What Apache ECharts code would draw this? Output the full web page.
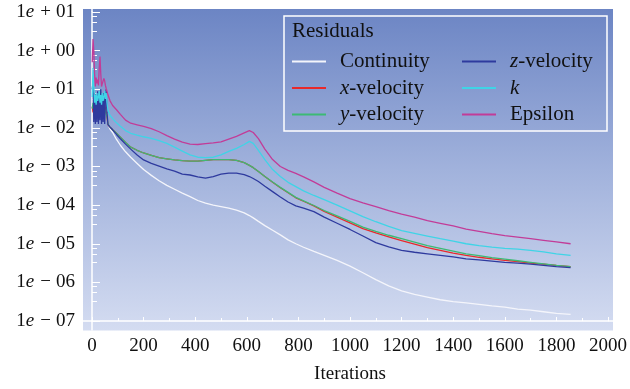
<!DOCTYPE html>
<html>
<head>
<meta charset="utf-8">
<script src="https://cdn.jsdelivr.net/npm/echarts@6/dist/echarts.min.js"></script>
<style>
html,body{margin:0;padding:0;background:#fff;}
#chart{width:630px;height:389px;}
</style>
</head>
<body>
<div id="chart"></div>
<script>
// ---- data (stored as log10 of the residual) ----
const iterations = [1,4,7,10,13,16,19,22,25,28,31,34,37,40,43,46,49,52,55,58,62,
  70,80,95,110,130,150,175,200,230,260,290,320,350,380,410,440,470,500,530,560,590,610,625,645,670,700,730,760,
  790,820,860,900,950,1000,1050,1100,1150,1200,1250,1300,1350,1400,1450,1500,1550,1600,1650,1700,1750,1800,1855];

const continuityLog = [-1.4,-1.55,-1.3,-1.5,-1.35,-1.55,-1.4,-1.3,-1.5,-1.45,-1.3,-1.5,-1.45,-1.35,-1.55,-1.45,-1.35,-1.5,-1.55,-1.7,-1.92,
  -2.03,-2.12,-2.3,-2.45,-2.62,-2.76,-2.92,-3.08,-3.23,-3.37,-3.49,-3.59,-3.69,-3.78,-3.88,-3.95,-4.0,-4.04,
  -4.08,-4.13,-4.2,-4.27,-4.33,-4.42,-4.53,-4.65,-4.77,-4.9,-5.0,-5.09,-5.2,-5.3,-5.43,-5.58,-5.75,-5.93,-6.09,-6.22,
  -6.31,-6.38,-6.45,-6.5,-6.53,-6.57,-6.61,-6.64,-6.69,-6.72,-6.76,-6.8,-6.83];

const xVelocityLog = [-1.45,-1.6,-1.35,-1.55,-1.4,-1.6,-1.35,-1.5,-1.55,-1.4,-1.5,-1.35,-1.55,-1.4,-1.5,-1.55,-1.4,-1.5,-1.6,-1.72,-1.92,
  -1.98,-2.05,-2.14,-2.24,-2.38,-2.5,-2.58,-2.65,-2.71,-2.77,-2.8,-2.83,-2.85,-2.86,-2.86,-2.84,-2.82,-2.82,
  -2.82,-2.84,-2.9,-2.97,-3.03,-3.13,-3.26,-3.41,-3.55,-3.68,-3.81,-3.9,-4.02,-4.16,-4.31,-4.46,-4.61,-4.72,-4.82,-4.92,
  -5.01,-5.1,-5.17,-5.24,-5.3,-5.35,-5.39,-5.43,-5.46,-5.5,-5.53,-5.56,-5.59];

const yVelocityLog = [-1.5,-1.35,-1.55,-1.4,-1.5,-1.3,-1.55,-1.45,-1.35,-1.5,-1.4,-1.55,-1.35,-1.5,-1.45,-1.4,-1.5,-1.45,-1.55,-1.7,-1.9,
  -1.98,-2.05,-2.14,-2.24,-2.38,-2.5,-2.58,-2.65,-2.71,-2.77,-2.8,-2.83,-2.85,-2.86,-2.86,-2.84,-2.82,-2.82,
  -2.82,-2.84,-2.9,-2.97,-3.03,-3.13,-3.26,-3.4,-3.54,-3.67,-3.8,-3.89,-4.01,-4.14,-4.28,-4.42,-4.57,-4.68,-4.78,-4.87,
  -4.96,-5.05,-5.12,-5.19,-5.26,-5.31,-5.36,-5.4,-5.44,-5.48,-5.52,-5.56,-5.59];

const zVelocityLog = [-1.0,-0.8,-1.85,-1.1,-1.9,-1.2,-1.85,-1.05,-1.9,-1.2,-1.8,-1.0,-1.9,-1.25,-1.85,-1.1,-1.9,-1.3,-1.0,-1.6,-1.92,
  -1.98,-2.05,-2.17,-2.28,-2.42,-2.55,-2.7,-2.83,-2.92,-2.99,-3.06,-3.12,-3.2,-3.22,-3.27,-3.3,-3.26,-3.2,
  -3.17,-3.17,-3.21,-3.26,-3.31,-3.39,-3.51,-3.65,-3.79,-3.92,-4.02,-4.08,-4.17,-4.31,-4.47,-4.63,-4.8,-4.97,-5.08,-5.17,
  -5.22,-5.26,-5.3,-5.34,-5.39,-5.42,-5.45,-5.48,-5.5,-5.53,-5.56,-5.59,-5.62];

const kLog = [-1.2,-0.45,-0.9,-1.35,-1.15,-1.4,-1.1,-1.3,-1.2,-1.05,-1.35,-1.15,-1.4,-1.1,-1.3,-1.2,-1.05,-1.25,-1.1,-1.35,-1.55,
  -1.68,-1.76,-1.87,-1.96,-2.07,-2.14,-2.19,-2.23,-2.27,-2.33,-2.4,-2.5,-2.6,-2.7,-2.76,-2.77,-2.76,-2.7,
  -2.61,-2.53,-2.43,-2.35,-2.4,-2.58,-2.82,-3.08,-3.26,-3.41,-3.52,-3.63,-3.75,-3.86,-4.0,-4.15,-4.3,-4.43,-4.55,-4.66,
  -4.73,-4.8,-4.87,-4.93,-5.0,-5.05,-5.09,-5.12,-5.14,-5.17,-5.21,-5.26,-5.3];

const epsilonLog = [-0.3,0.3,0.0,-0.6,-0.93,-0.7,-0.85,-0.75,-0.9,-0.45,-0.15,-0.6,-0.93,-0.85,-0.8,-0.72,-0.78,-0.9,-0.98,-1.05,-1.15,
  -1.3,-1.42,-1.53,-1.65,-1.8,-1.88,-1.92,-1.96,-2.02,-2.1,-2.2,-2.29,-2.37,-2.42,-2.43,-2.41,-2.39,-2.36,
  -2.29,-2.22,-2.13,-2.07,-2.12,-2.28,-2.55,-2.82,-3.0,-3.1,-3.18,-3.27,-3.4,-3.54,-3.69,-3.83,-3.94,-4.04,-4.14,-4.23,
  -4.31,-4.4,-4.47,-4.54,-4.62,-4.68,-4.74,-4.79,-4.83,-4.87,-4.91,-4.95,-5.0];

const seriesNames = ['Continuity','x-velocity','y-velocity','z-velocity','k','Epsilon'];
const seriesLogs = [continuityLog, xVelocityLog, yVelocityLog, zVelocityLog, kLog, epsilonLog];
const seriesColors = ['#f4f5fb','#e8292b','#3cba74','#2e3a9e','#3fd4e6','#c23c98'];
const xTicks = {min:0, max:2000, interval:200};
const yRange = {min:1e-7, max:10};

// ---- chart ----
const FONT = '"Liberation Serif", "Times New Roman", serif';
const chart = echarts.init(document.getElementById('chart'), null, {renderer:'canvas'});

const seriesList = seriesNames.map((name, i) => ({
  name: name,
  type: 'line',
  data: iterations.map((it, j) => [it, Math.pow(10, seriesLogs[i][j])]),
  showSymbol: false,
  symbol: 'none',
  color: seriesColors[i],
  itemStyle: {color: seriesColors[i]},
  lineStyle: {color: seriesColors[i], width: 1.3},
  emphasis: {disabled: true},
  z: 3
}));

const LFS = 21;
function legendFormatter(name) {
  let body;
  if (/^[xyz]-velocity$/.test(name)) body = '{i|' + name[0] + '}{t|-velocity}';
  else if (name === 'k') body = '{i|k}';
  else body = '{t|' + name + '}';
  return '{g| }' + body;
}
const legendRich = {
  g: {width: 9, fontSize: LFS, fontFamily: FONT, lineHeight: 21},
  t: {fontSize: LFS, fontFamily: FONT, color: '#111', lineHeight: 21},
  i: {fontSize: LFS, fontFamily: FONT, fontStyle: 'italic', color: '#111', lineHeight: 21}
};
function makeLegend(data, left) {
  return {
    data: data, orient: 'vertical', left: left, top: 51, padding: 0,
    itemWidth: 34, itemHeight: 2, itemGap: 5.5, icon: 'rect',
    selectedMode: false, formatter: legendFormatter,
    textStyle: {fontSize: LFS, fontFamily: FONT, color: '#111', rich: legendRich}
  };
}

const option = {
  animation: false,
  backgroundColor: '#ffffff',
  title: {
    text: 'Residuals', left: 292, top: 21, padding: 0,
    textStyle: {fontSize: LFS, fontFamily: FONT, fontWeight: 'normal', color: '#111', lineHeight: 21}
  },
  legend: [
    makeLegend(['Continuity','x-velocity','y-velocity'], 292),
    makeLegend(['z-velocity','k','Epsilon'], 462)
  ],
  grid: {left: 92, right: 22, top: 12, bottom: 66, containLabel: false},
  xAxis: {
    type: 'value', min: xTicks.min, max: xTicks.max, interval: xTicks.interval,
    name: 'Iterations', nameLocation: 'middle', nameGap: 44,
    nameTextStyle: {fontSize: 19, fontFamily: FONT, color: '#111'},
    axisLine: {show: true, lineStyle: {color: '#ffffff', width: 1.5}},
    axisTick: {show: true, inside: true, length: 4, lineStyle: {color: '#ffffff', width: 1}},
    minorTick: {show: true, splitNumber: 2, length: 3, lineStyle: {color: '#ffffff', width: 1}},
    splitLine: {show: false},
    axisLabel: {fontSize: 19, fontFamily: FONT, color: '#111', margin: 16,
      formatter: function (v) { return String(v); }}
  },
  yAxis: {
    type: 'log', logBase: 10, min: yRange.min, max: yRange.max,
    axisLine: {show: true, lineStyle: {color: '#ffffff', width: 1.5}},
    axisTick: {show: true, inside: true, length: 8, lineStyle: {color: '#ffffff', width: 1}},
    minorTick: {show: true, splitNumber: 4, length: 5, lineStyle: {color: '#ffffff', width: 1}},
    splitLine: {show: false},
    axisLabel: {
      margin: 17, fontSize: 19, fontFamily: FONT, color: '#111',
      formatter: function (v) {
        const p = Math.round(Math.log10(v));
        const sign = p < 0 ? '\u2212' : '+';
        const d = String(Math.abs(p)).padStart(2, '0');
        return '{n|1}{e|e}{s|' + sign + '}{n|' + d + '}';
      },
      rich: {
        n: {fontSize: 19, fontFamily: FONT, color: '#111'},
        e: {fontSize: 19, fontFamily: FONT, fontStyle: 'italic', color: '#111'},
        s: {fontSize: 19, fontFamily: FONT, color: '#111', padding: [0, 5, 0, 6]}
      }
    }
  },
  series: seriesList
};
chart.setOption(option);

// background panel, axis-line extensions and legend frame, placed from the axes
const o = chart.convertToPixel({gridIndex: 0}, [xTicks.min, yRange.min]);
const e = chart.convertToPixel({gridIndex: 0}, [xTicks.max, yRange.max]);
const bgX0 = o[0] - 9, bgX1 = e[0] + 5, bgY0 = e[1] - 3, bgY1 = o[1] + 9.5;
chart.setOption({
  graphic: [
    {
      type: 'rect', z: -10, silent: true,
      shape: {x: bgX0, y: bgY0, width: bgX1 - bgX0, height: bgY1 - bgY0},
      style: {fill: new echarts.graphic.LinearGradient(0, 0, 0, 1, [
        {offset: 0, color: '#6c85c4'},
        {offset: 0.5, color: '#a1b2dc'},
        {offset: 1, color: '#d4dcf1'}
      ])}
    },
    {type: 'line', z: 1, silent: true, shape: {x1: o[0], y1: o[1], x2: o[0], y2: bgY1}, style: {stroke: '#fff', lineWidth: 1.5}},
    {type: 'line', z: 1, silent: true, shape: {x1: o[0], y1: e[1], x2: o[0], y2: bgY0}, style: {stroke: '#fff', lineWidth: 1.5}},
    {type: 'line', z: 1, silent: true, shape: {x1: bgX0, y1: o[1], x2: o[0], y2: o[1]}, style: {stroke: '#fff', lineWidth: 1.5}},
    {type: 'line', z: 1, silent: true, shape: {x1: e[0], y1: o[1], x2: bgX1, y2: o[1]}, style: {stroke: '#fff', lineWidth: 1.5}},
    {
      type: 'rect', z: 5, silent: true,
      shape: {x: 284, y: 16, width: 323, height: 115},
      style: {fill: 'none', stroke: '#ffffff', lineWidth: 1.5}
    }
  ]
});
</script>
</body>
</html>
